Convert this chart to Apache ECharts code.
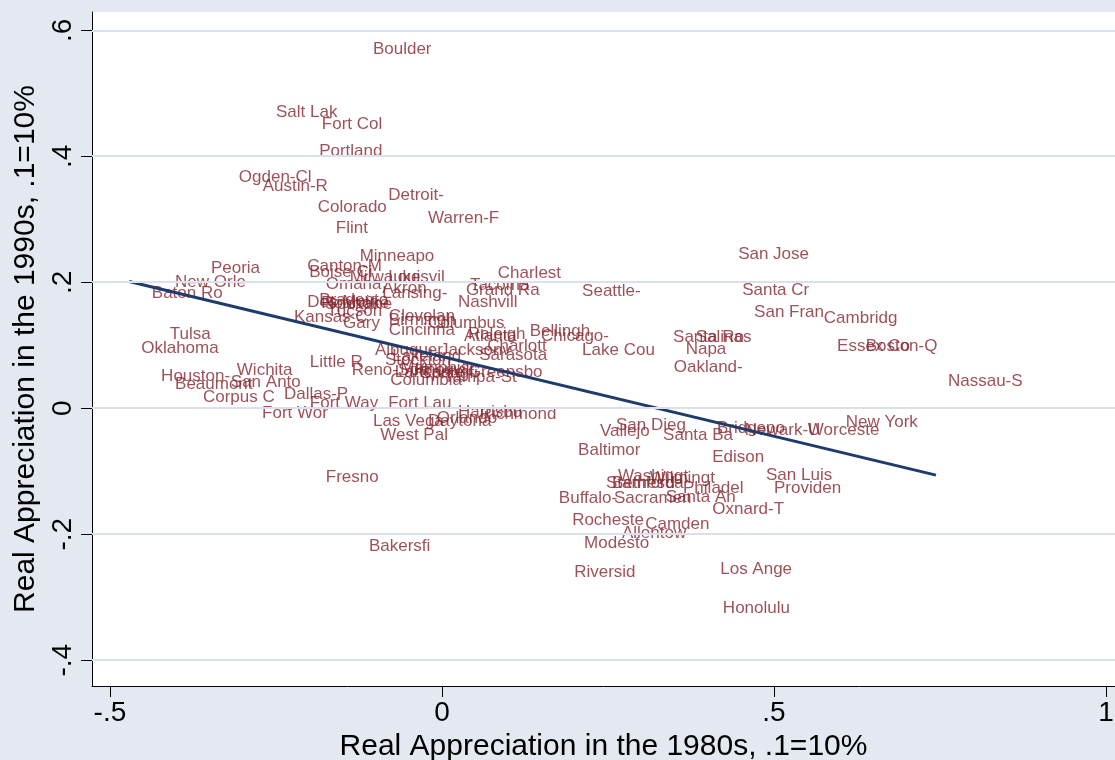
<!DOCTYPE html>
<html>
<head>
<meta charset="utf-8">
<title>Real Appreciation: 1980s vs 1990s</title>
<script src="https://cdn.jsdelivr.net/npm/echarts@6/dist/echarts.min.js"></script>
<style>
  html, body { margin: 0; padding: 0; background: #E4E9F1; }
  #chart { width: 1115px; height: 760px; }
</style>
</head>
<body>
<div id="chart"></div>
<script>
// Metro areas (names truncated to 8 characters)
const cities = [
  'Boulder','Salt Lak','Fort Col','Portland','Ogden-Cl','Austin-R','Detroit-','Colorado','Warren-F','Flint',
  'Minneapo','Canton-M','Boise Ci','Milwauke','Louisvil','Omaha','Akron','Lansing-','Peoria','New Orle',
  'Baton Ro','Charlest','Tacoma','Grand Ra','Nashvill','Seattle-','Des Moin','Bradento','Roanoke','Spokane',
  'Tucson','Kansas C','Gary','Clevelan','Birmingh','Columbus','Cincinna','Tulsa','Oklahoma','Atlanta',
  'Raleigh','Bellingh','Chicago-','Charlott','Lake Cou','Albuquer','Jacksonv','Sarasota','Little R','Wichita',
  'Houston-','San Anto','Beaumont','Corpus C','Dallas-P','Fort Way','Fort Wor','Stockton','Lakeland','Reno-Spa',
  'Memphis','Knoxvill','Lancaste','Springfi','Greensbo','Tampa-St','Columbia','Fort Lau','Harrisbu','Richmond',
  'Orlando','Daytona','Las Vega','West Pal','Fresno','Bakersfi','San Jose','Santa Cr','San Fran','Cambridg',
  'Santa Ro','Salinas','Napa','Oakland-','Essex Co','Boston-Q','Nassau-S','New York','Bridgepo','Newark-U',
  'Worceste','Edison','San Luis','Providen','Philadel','Oxnard-T','Santa An','Los Ange','Honolulu','San Dieg',
  'Vallejo','Santa Ba','Baltimor','Washingt','Wilmingt','Stamford','Bethesda','Buffalo-','Sacramen','Rocheste',
  'Camden','Allentow','Modesto','Riversid'
];

// Real appreciation in the 1980s (.1 = 10%)
const apprec1980s = [
  -0.122,-0.268,-0.199,-0.203,-0.324,-0.288,-0.099,-0.205,-0.039,-0.178,
  -0.142,-0.221,-0.218,-0.157,-0.099,-0.193,-0.108,-0.108,-0.366,-0.420,
  -0.455, 0.066, 0.024, 0.018, 0.006, 0.193,-0.221,-0.203,-0.200,-0.194,
  -0.191,-0.241,-0.167,-0.098,-0.098,-0.039,-0.098,-0.428,-0.471, 0.015,
   0.021, 0.114, 0.131, 0.050, 0.193,-0.119,-0.021, 0.038,-0.217,-0.327,
  -0.441,-0.336,-0.420,-0.378,-0.256,-0.217,-0.289,-0.104,-0.093,-0.154,
  -0.081,-0.059,-0.089,-0.051, 0.021,-0.015,-0.096,-0.099, 0.006, 0.039,
  -0.026,-0.039,-0.122,-0.111,-0.193,-0.128, 0.428, 0.434, 0.452, 0.557,
   0.330, 0.364, 0.349, 0.331, 0.577, 0.620, 0.744, 0.590, 0.396, 0.438,
   0.533, 0.389, 0.470, 0.482, 0.345, 0.389, 0.319, 0.401, 0.405, 0.244,
   0.220, 0.315, 0.187, 0.247, 0.295, 0.229, 0.238, 0.158, 0.241, 0.178,
   0.288, 0.253, 0.196, 0.181
];

// Real appreciation in the 1990s (.1 = 10%)
const apprec1990s = [
   0.570, 0.470, 0.451, 0.408, 0.367, 0.352, 0.338, 0.319, 0.302, 0.286,
   0.241, 0.225, 0.216, 0.208, 0.208, 0.197, 0.190, 0.183, 0.222, 0.200,
   0.183, 0.214, 0.195, 0.187, 0.168, 0.186, 0.168, 0.171, 0.167, 0.165,
   0.154, 0.144, 0.135, 0.146, 0.140, 0.135, 0.124, 0.117, 0.095, 0.114,
   0.117, 0.122, 0.114, 0.098, 0.092, 0.092, 0.092, 0.084, 0.073, 0.060,
   0.051, 0.041, 0.038, 0.017, 0.022, 0.008,-0.008, 0.076, 0.083, 0.060,
   0.063, 0.060, 0.057, 0.056, 0.057, 0.049, 0.044, 0.008,-0.006,-0.010,
  -0.016,-0.021,-0.021,-0.043,-0.110,-0.219, 0.244, 0.187, 0.152, 0.143,
   0.113, 0.113, 0.094, 0.065, 0.098, 0.098, 0.043,-0.022,-0.032,-0.035,
  -0.035,-0.078,-0.106,-0.127,-0.127,-0.160,-0.141,-0.256,-0.317,-0.027,
  -0.037,-0.043,-0.067,-0.108,-0.111,-0.119,-0.119,-0.143,-0.143,-0.178,
  -0.184,-0.198,-0.214,-0.260
];

// Linear fit of 1990s on 1980s appreciation
const fitIntercept = 0.082;
const fitSlope = -0.253;

// Axis ticks
const xTicks = [-0.5, 0, 0.5, 1];
const yTicks = [-0.4, -0.2, 0, 0.2, 0.4, 0.6];

const xTitle = 'Real Appreciation in the 1980s, .1=10%';
const yTitle = 'Real Appreciation in the 1990s, .1=10%';

// Stata-style number format: .5, -.4, 0, 1
function stataNum(v) {
  const r = Math.round(v * 10) / 10;
  if (r === 0) return '0';
  let s = String(Math.abs(r));
  if (s.startsWith('0.')) s = s.slice(1);
  return (r < 0 ? '-' : '') + s;
}

const points = cities.map((c, i) => [apprec1980s[i], apprec1990s[i], c]);
const xMin = Math.min(...apprec1980s);
const xMax = Math.max(...apprec1980s);
const fitData = [[xMin, fitIntercept + fitSlope * xMin], [xMax, fitIntercept + fitSlope * xMax]];

const FONT = '"Liberation Sans", Arial, sans-serif';
const chart = echarts.init(document.getElementById('chart'), null, { renderer: 'canvas' });

chart.setOption({
  animation: false,
  backgroundColor: '#E4E9F1',
  grid: {
    left: 92, top: 12, right: 0, bottom: 74,
    show: true, backgroundColor: '#FFFFFF', borderWidth: 0,
    containLabel: false,
    outerBoundsMode: 'none'
  },
  xAxis: {
    type: 'value',
    min: -0.527, max: 1.0136,
    axisLine: { show: true, onZero: false, lineStyle: { color: '#000', width: 1 } },
    axisTick: { show: true, customValues: xTicks, length: 11, lineStyle: { color: '#000', width: 1 } },
    axisLabel: {
      customValues: xTicks, formatter: stataNum,
      fontFamily: FONT, fontSize: 28, color: '#000', margin: 13
    },
    splitLine: { show: false },
    name: xTitle, nameLocation: 'middle', nameGap: 40,
    nameTextStyle: { fontFamily: FONT, fontSize: 30, color: '#000' }
  },
  yAxis: {
    type: 'value',
    min: -0.441, max: 0.629,
    axisLine: { show: true, onZero: false, lineStyle: { color: '#000', width: 1 } },
    axisTick: { show: true, customValues: yTicks, length: 11, lineStyle: { color: '#000', width: 1 } },
    axisLabel: {
      customValues: yTicks, formatter: stataNum, rotate: 90,
      fontFamily: FONT, fontSize: 28, color: '#000', margin: 15
    },
    splitLine: { show: false },
    name: yTitle, nameLocation: 'middle', nameGap: 48, nameRotate: 90,
    nameTextStyle: { fontFamily: FONT, fontSize: 30, color: '#000' }
  },
  series: [
    {
      // horizontal grid lines at the y ticks
      type: 'line', data: [], silent: true, z: 1,
      markLine: {
        silent: true, symbol: 'none', label: { show: false },
        lineStyle: { color: '#DAE1EC', width: 2, type: 'solid' },
        data: yTicks.map(v => ({ yAxis: v }))
      }
    },
    {
      type: 'scatter', data: points, z: 3,
      symbolSize: 1, itemStyle: { color: 'rgba(0,0,0,0)' },
      label: {
        show: true, position: 'right', distance: 11.5,
        formatter: p => p.data[2],
        fontFamily: FONT, fontSize: 17, color: '#84262F'
      },
      labelLayout: { hideOverlap: false }
    },
    {
      type: 'line', data: fitData, z: 4,
      symbol: 'none', silent: true,
      lineStyle: { color: '#1E3B6C', width: 3 }
    }
  ]
});
</script>
</body>
</html>
